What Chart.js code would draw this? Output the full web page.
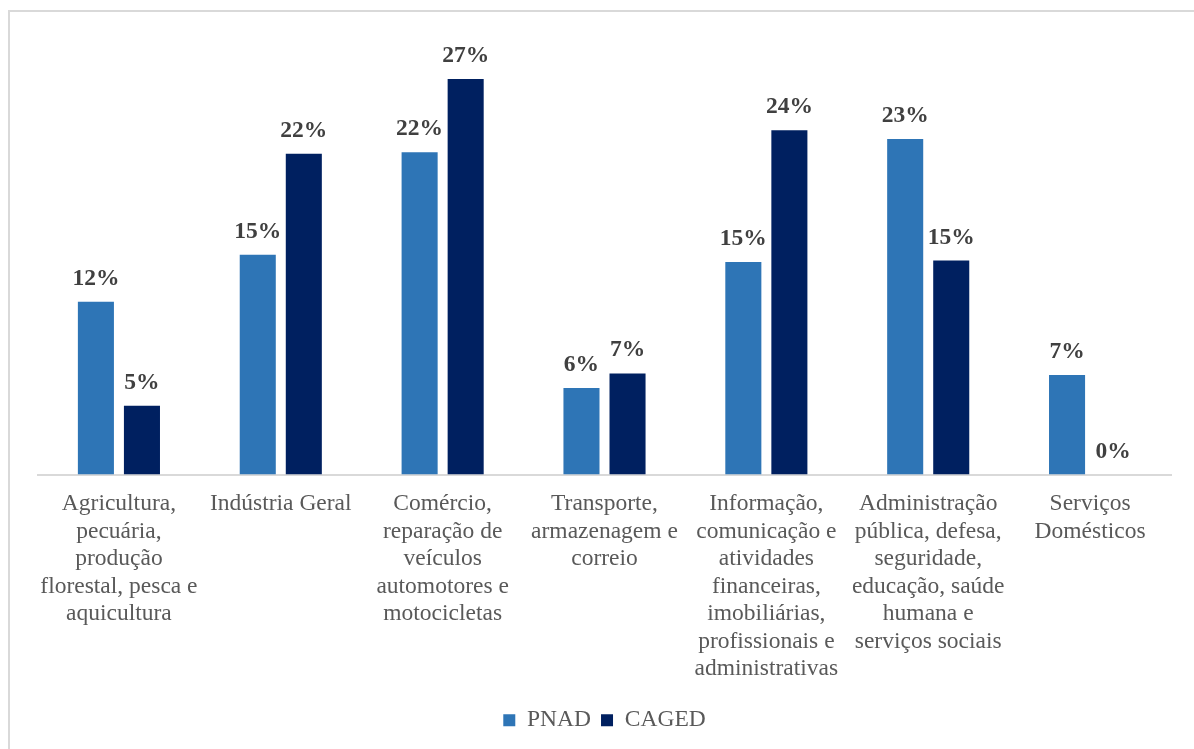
<!DOCTYPE html>
<html lang="pt">
  <head>
    <meta charset="UTF-8" />
    <title>PNAD x CAGED</title>
    <script src="https://cdn.jsdelivr.net/npm/chart.js@4.4.0/dist/chart.umd.min.js"></script>
    <style>
      html, body { margin: 0; padding: 0; background: #fff; }
      .wrap { position: relative; width: 1194px; height: 749px; overflow: hidden; }
      .frame {
        position: absolute; left: 8px; top: 10px; width: 1300px; height: 900px;
        border-left: 2px solid #d9d9d9; border-top: 2px solid #d9d9d9;
      }
      canvas { position: absolute; left: 0; top: 0; }
    </style>
  </head>
  <body>
    <div class="wrap">
      <div class="frame"></div>
      <canvas id="chart" width="1194" height="749"></canvas>
    </div>

    <script>
      //data
      const categories = [
        ['Agricultura,', 'pecuária,', 'produção', 'florestal, pesca e', 'aquicultura'],
        ['Indústria Geral'],
        ['Comércio,', 'reparação de', 'veículos', 'automotores e', 'motocicletas'],
        ['Transporte,', 'armazenagem e', 'correio'],
        ['Informação,', 'comunicação e', 'atividades', 'financeiras,', 'imobiliárias,', 'profissionais e', 'administrativas'],
        ['Administração', 'pública, defesa,', 'seguridade,', 'educação, saúde', 'humana e', 'serviços sociais'],
        ['Serviços', 'Domésticos']
      ];
      const pnad = [11.8, 15.0, 22.0, 5.9, 14.5, 22.9, 6.8];
      const caged = [4.7, 21.9, 27.0, 6.9, 23.5, 14.6, 0];

      const serif = '"Liberation Serif", "Times New Roman", serif';
      const fontSize = 23.5;

      // percent labels above each bar
      const valueLabels = {
        id: 'valueLabels',
        afterDatasetsDraw(chart) {
          const ctx = chart.ctx;
          ctx.save();
          ctx.font = 'bold ' + fontSize + 'px ' + serif;
          ctx.fillStyle = '#404040';
          ctx.textAlign = 'center';
          ctx.textBaseline = 'alphabetic';
          chart.data.datasets.forEach((ds, i) => {
            chart.getDatasetMeta(i).data.forEach((bar, j) => {
              ctx.fillText(Math.round(ds.data[j]) + '%', bar.x, bar.y - 17);
            });
          });
          ctx.restore();
        }
      };

      //config
      const config = {
        type: 'bar',
        data: {
          labels: categories,
          datasets: [
            { label: 'PNAD', data: pnad, backgroundColor: '#2e75b6' },
            { label: 'CAGED', data: caged, backgroundColor: '#002060' }
          ]
        },
        options: {
          responsive: false,
          animation: false,
          categoryPercentage: 0.569,
          barPercentage: 0.783,
          layout: { padding: { left: 38, right: 23, top: 35, bottom: 7 } },
          scales: {
            y: { display: false, min: 0, max: 30 },
            x: {
              grid: { display: false, drawTicks: false },
              border: { display: true, color: '#d9d9d9', width: 2 },
              ticks: {
                autoSkip: false,
                maxRotation: 0,
                minRotation: 0,
                padding: 16,
                color: '#595959',
                font: { family: serif, size: fontSize, lineHeight: 1.17 }
              },
              afterFit(scale) { scale.height = 224; }
            }
          },
          plugins: {
            legend: {
              position: 'bottom',
              labels: {
                boxWidth: 12,
                boxHeight: 12,
                padding: 10,
                color: '#595959',
                font: { family: serif, size: fontSize }
              }
            },
            tooltip: { enabled: false }
          }
        },
        plugins: [valueLabels]
      };

      //init
      const chart = new Chart(document.getElementById('chart'), config);
    </script>
  </body>
</html>
